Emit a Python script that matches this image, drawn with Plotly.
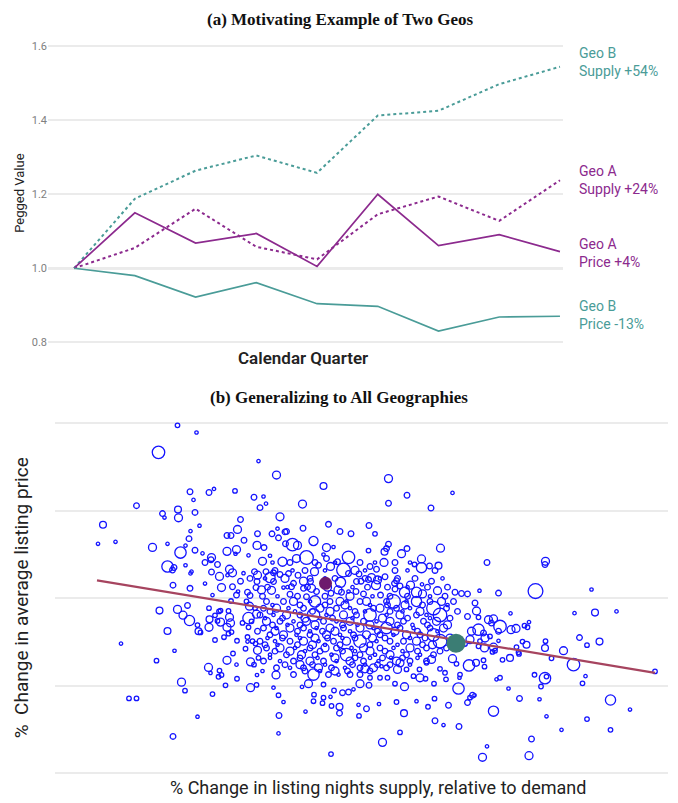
import plotly.graph_objects as go

# ---------------- Panel (a) data ----------------
quarters = [0, 1, 2, 3, 4, 5, 6, 7, 8]
geo_b_supply = [1.000, 1.188, 1.264, 1.305, 1.258, 1.413, 1.426, 1.498, 1.545]
geo_a_supply = [1.000, 1.055, 1.161, 1.058, 1.024, 1.146, 1.194, 1.128, 1.238]
geo_a_price = [1.000, 1.150, 1.068, 1.094, 1.005, 1.200, 1.061, 1.091, 1.045]
geo_b_price = [1.000, 0.980, 0.922, 0.961, 0.904, 0.897, 0.830, 0.868, 0.870]
y_ticks_a = [0.8, 1.0, 1.2, 1.4, 1.6]
end_labels = ["Geo B<br>Supply +54%", "Geo A<br>Supply +24%",
              "Geo A<br>Price +4%", "Geo B<br>Price -13%"]

# ---------------- Panel (b) data: (supply change, price change, geo size) ----------------
geos_far_left = [
    (-36.5, 43.5, 4), (-32.7, 41.7, 3), (-40.3, 36.7, 11), (-20.3, 34.5, 3), (-34.0, 26.8, 5),
    (-33.3, 24.75, 3), (-30.2, 26.6, 5), (-29.2, 27.5, 3), (-25.0, 27.0, 4), (-21.2, 25.4, 5),
    (-44.7, 23.3, 5), (-36.4, 22.3, 6), (-36.3, 20.25, 7), (-39.5, 21.3, 5), (-39.1, 20.3, 3),
    (-33.0, 21.6, 5), (-51.4, 18.5, 6), (-23.9, 19.8, 5), (-24.5, 17.3, 7), (-33.9, 16.9, 3),
    (-32.1, 18.25, 3), (-52.4, 13.7, 3), (-48.9, 14.2, 3), (-41.5, 12.8, 7), (-38.5, 13.7, 3),
    (-34.2, 15.0, 5), (-35.9, 11.5, 10), (-34.9, 13.25, 3), (-33.0, 12.1, 5), (-31.5, 11.3, 3),
    (-29.7, 10.25, 7), (-29.8, 9.7, 5), (-26.6, 11.8, 7), (-26.6, 15.8, 5), (-25.8, 15.8, 5),
    (-24.7, 12.25, 7), (-24.9, 11.2, 3), (-23.2, 14.6, 5), (-22.3, 10.8, 3), (-20.5, 16.25, 5),
    (-20.6, 13.3, 7), (-38.5, 8.0, 10), (-37.5, 7.1, 5), (-37.2, 7.75, 5), (-34.9, 8.3, 3),
    (-33.9, 6.25, 3), (-33.7, 6.7, 3), (-31.0, 9.0, 5), (-28.5, 8.5, 5), (-29.7, 6.6, 5),
    (-28.1, 5.5, 7), (-26.1, 7.3, 7), (-25.5, 6.4, 7), (-26.5, 5.8, 3), (-23.3, 6.3, 3),
    (-21.1, 6.7, 5), (-20.5, 5.8, 7), (-23.9, 4.3, 5), (-22.0, 5.0, 5), (-37.4, 3.3, 5),
    (-34.0, 2.5, 5), (-31.0, 3.7, 3), (-27.7, 2.7, 7), (-25.5, 2.9, 5), (-29.5, 0.8, 3),
    (-24.7, 0.8, 5), (-24.4, 1.7, 3), (-22.5, 1.5, 5), (-22.0, 0.7, 5), (-20.8, 2.7, 5),
    (-20.6, 4.2, 5),
]
geos_upper_mid = [
    (-16.7, 31.0, 7), (-7.3, 28.25, 6), (5.7, 30.1, 7), (9.4, 25.9, 5), (18.5, 26.5, 3),
    (5.7, 23.9, 5), (14.2, 22.7, 5), (-11.5, 23.7, 7), (-19.3, 25.6, 3), (-18.8, 23.8, 3),
    (-20.0, 22.8, 5), (-16.0, 20.5, 7), (-11.4, 17.6, 5), (-6.3, 18.6, 5), (-4.0, 16.8, 5),
    (-1.8, 16.25, 5), (1.8, 18.3, 5), (3.0, 16.2, 4), (-17.6, 16.2, 5), (-16.5, 17.5, 3),
    (-15.0, 16.7, 5), (-14.7, 16.8, 5), (-16.3, 15.2, 5), (-9.3, 14.4, 8), (-13.5, 13.5, 11),
    (-12.5, 13.3, 7), (-14.9, 13.7, 5), (-6.7, 12.75, 7), (-5.3, 12.9, 3), (-19.2, 12.75, 5),
    (5.7, 13.6, 5), (5.3, 12.5, 5), (4.9, 11.7, 6), (1.7, 12.0, 4), (9.4, 12.5, 5),
    (16.1, 12.6, 7), (8.3, 11.2, 7), (-10.7, 10.25, 12), (-12.7, 10.0, 7), (-15.5, 9.2, 8),
    (-19.5, 9.3, 7), (-18.0, 10.7, 3), (-7.3, 11.0, 3), (-6.7, 10.0, 5), (-2.3, 10.3, 11),
    (-3.3, 7.1, 12), (-5.9, 8.0, 7), (-8.3, 8.3, 5), (-9.1, 6.7, 7), (-4.5, 9.2, 5),
    (2.0, 8.0, 5), (3.3, 7.3, 5), (4.8, 9.0, 7), (10.9, 8.5, 4), (12.3, 9.9, 7),
    (12.3, 7.7, 9), (13.9, 8.1, 5), (15.7, 8.2, 6), (-0.2, 6.1, 5), (-2.3, 6.25, 5),
    (-18.8, 6.7, 5), (-17.3, 6.4, 5), (-18.0, 5.2, 9), (-16.0, 6.0, 5), (-14.3, 6.2, 5),
    (-12.4, 5.8, 5), (-11.3, 4.3, 7), (-13.3, 3.75, 5), (-13.7, 2.9, 5), (-9.9, 4.2, 5),
    (-17.3, 4.2, 5), (-19.7, 2.1, 7), (-17.7, 2.0, 7), (-15.3, 2.7, 3), (-11.3, 2.5, 5),
    (-9.7, 2.5, 7), (-8.7, 1.7, 5), (-3.9, 4.0, 9), (-4.4, 2.1, 7), (-3.7, 1.5, 5),
    (-0.7, 4.2, 5), (0.2, 4.3, 5), (-0.8, 1.7, 5), (-2.3, 1.7, 3), (1.7, 4.7, 5),
    (2.3, 5.2, 7), (3.5, 4.6, 7), (3.2, 3.3, 8), (5.0, 5.4, 5), (6.9, 3.75, 5),
    (7.3, 4.4, 5), (8.0, 3.1, 5), (10.1, 3.3, 7), (14.3, 4.3, 5), (12.4, 3.5, 3),
    (7.0, 2.3, 5), (8.9, 1.5, 9), (11.3, 1.5, 9), (12.5, 1.1, 7), (15.5, 1.9, 7),
    (19.0, 1.5, 5), (20.3, 1.2, 5), (4.1, 0.8, 5), (0.7, 1.1, 5), (-5.8, 1.25, 5),
    (-14.0, 1.0, 5), (-10.7, 0.4, 5),
]
geos_upper_mid_b = [
    (-19.5, 0.5, 5), (-16.5, 0.5, 3), (-12.5, 0.5, 5), (-7.0, 0.5, 5), (-2.0, 0.5, 7),
    (2.5, 0.5, 3), (6.0, 0.5, 5), (9.5, 0.5, 5), (14.0, 0.5, 3), (17.0, 0.5, 5),
    (-18.5, 2.8, 5), (-14.5, 2.8, 3), (-10.5, 2.8, 5), (-6.5, 2.8, 7), (-1.5, 2.8, 3),
    (1.5, 2.8, 5), (5.5, 2.8, 5), (9.5, 2.8, 3), (13.5, 2.8, 5), (17.5, 2.8, 5),
    (-19.0, 5.0, 3), (-15.0, 5.0, 7), (-10.0, 5.0, 5), (-7.0, 5.0, 3), (-5.0, 5.0, 5),
    (1.0, 5.0, 5), (4.0, 5.0, 3), (7.5, 5.0, 5), (11.0, 5.0, 5), (16.5, 5.0, 3),
    (-17.0, 7.0, 5), (-13.5, 7.0, 3), (-11.0, 7.0, 5), (-7.0, 7.0, 3), (-1.0, 7.0, 7),
    (1.0, 7.0, 3), (7.0, 7.0, 5), (9.5, 7.0, 3), (15.0, 7.0, 5),
    (-17.5, 9.0, 3), (-14.0, 9.0, 5), (-9.0, 9.0, 5), (-5.0, 9.0, 3), (0.0, 9.0, 5),
    (3.0, 9.0, 3), (7.0, 9.0, 5), (10.0, 9.0, 3),
]
geos_upper_right = [
    (25.4, 9.0, 5), (37.1, 9.3, 7), (37.0, 8.5, 5), (21.5, 1.1, 5), (23.9, 1.9, 3),
    (27.7, 1.3, 5), (35.1, 1.8, 13), (46.3, 2.2, 3),
]
geos_lower_left = [
    (-47.8, -11.4, 3), (-37.1, -13.2, 3), (-40.7, -15.7, 4), (-40.1, -3.1, 6), (-36.5, -2.8, 7),
    (-35.4, -4.25, 7), (-34.5, -1.8, 5), (-34.1, -5.6, 9), (-38.5, -8.25, 6), (-32.5, -6.75, 4),
    (-32.3, -8.3, 6), (-31.9, -8.6, 4), (-30.2, -7.3, 7), (-30.1, -5.3, 6), (-30.2, -2.5, 4),
    (-29.0, -4.3, 4), (-28.2, -3.3, 4), (-27.9, -3.1, 4), (-28.5, -5.7, 4), (-27.9, -6.0, 7),
    (-26.3, -3.2, 4), (-26.1, -4.8, 7), (-25.9, -6.2, 7), (-26.6, -7.3, 7), (-26.3, -8.9, 4),
    (-25.7, -8.5, 4), (-29.0, -10.5, 4), (-27.2, -9.8, 4), (-24.6, -10.7, 4), (-25.8, -0.7, 4),
    (-22.7, -0.8, 4), (-22.1, -2.0, 7), (-22.3, -5.0, 10), (-21.7, -5.8, 4), (-23.5, -6.2, 4),
    (-22.3, -7.3, 4), (-21.0, -2.5, 4), (-20.7, -4.0, 7), (-22.5, -9.75, 4), (-22.5, -10.9, 3),
    (-21.5, -10.8, 4), (-20.9, -11.4, 4), (-22.9, -12.7, 4), (-20.5, -13.1, 7), (-20.3, -15.0, 4),
    (-25.4, -13.9, 4), (-26.6, -15.6, 7), (-24.7, -16.7, 3), (-21.9, -16.0, 7), (-21.2, -16.7, 4),
    (-30.3, -17.4, 7), (-29.9, -18.8, 3), (-28.1, -18.2, 4), (-27.7, -19.3, 4), (-28.3, -19.75, 4),
    (-24.6, -20.25, 4), (-26.9, -21.9, 4), (-35.7, -21.1, 7), (-35.0, -23.25, 4), (-29.5, -24.1, 4),
    (-21.9, -22.5, 7), (-20.7, -21.8, 4), (-20.6, -19.3, 3), (-46.2, -25.2, 4), (-44.7, -25.2, 4),
    (-32.5, -29.8, 3), (-37.4, -34.75, 5),
]
geos_lower_mid = [
    (-19.5, -18.3, 3), (-16.8, -19.3, 7), (-17.3, -22.5, 3), (-16.3, -24.4, 4), (-15.3, -26.1, 3),
    (-16.2, -29.5, 5), (-16.3, -34.0, 3), (-10.9, -28.5, 3), (-9.3, -25.9, 4), (-9.2, -24.25, 4),
    (-7.3, -25.0, 4), (-7.5, -26.4, 4), (-5.7, -27.1, 4), (-5.9, -24.8, 3), (-4.1, -27.3, 6),
    (-4.1, -28.9, 5), (-5.8, -39.2, 4), (-11.6, -22.3, 3), (-10.3, -21.5, 7), (-7.3, -21.7, 4),
    (-5.2, -23.2, 4), (-3.5, -23.75, 5), (-2.3, -23.6, 5), (-1.3, -22.9, 3), (0.0, -21.5, 7),
    (1.8, -21.9, 5), (-0.3, -26.8, 3), (-0.2, -29.6, 4), (1.3, -27.8, 5), (3.8, -26.6, 3),
    (4.5, -36.25, 7), (7.3, -26.1, 4), (8.8, -28.9, 6), (8.9, -22.25, 7), (8.0, -33.75, 4),
    (11.3, -25.9, 3), (13.6, -27.3, 4), (14.9, -25.25, 4), (15.0, -30.8, 5), (16.7, -31.9, 3),
    (17.7, -26.9, 5), (19.8, -32.25, 5), (19.7, -22.7, 10), (14.8, -21.5, 4), (13.1, -20.25, 4),
    (17.2, -20.4, 4), (19.9, -20.0, 3), (10.7, -19.6, 4), (12.0, -20.0, 7), (7.0, -21.5, 4),
    (5.5, -20.0, 4), (4.0, -20.0, 4), (2.0, -20.0, 4), (1.0, -17.75, 7), (4.3, -17.1, 3),
    (6.2, -15.0, 3), (8.0, -16.25, 7), (7.5, -17.9, 7), (9.3, -17.9, 4), (11.9, -17.9, 4),
    (13.3, -16.25, 4), (14.3, -15.4, 7), (16.0, -17.75, 4), (17.0, -18.75, 4), (18.5, -15.2, 7),
    (19.3, -16.5, 4), (20.0, -19.2, 4),
]
geos_core = [
    (-18.7, -0.8, 5), (-15.3, -0.8, 5), (-13.3, -0.8, 7), (-10.0, -0.8, 3), (-9.0, -0.8, 10),
    (-6.0, -0.8, 5), (-4.0, -0.8, 7), (-2.7, -0.8, 3), (0.0, -0.8, 5), (1.3, -0.8, 7),
    (5.3, -0.8, 5), (6.7, -0.8, 12), (9.3, -0.8, 3), (11.3, -0.8, 9), (14.0, -0.8, 5),
    (16.3, -0.8, 7), (18.7, -0.8, 5),
    (-19.3, -2.5, 5), (-16.7, -2.5, 7), (-14.3, -2.5, 3), (-11.3, -2.5, 5), (-8.0, -2.5, 7),
    (-4.7, -2.5, 5), (-2.0, -2.5, 3), (2.7, -2.5, 5), (4.0, -2.5, 7), (7.3, -2.5, 5),
    (10.0, -2.5, 3), (14.7, -2.5, 12), (17.3, -2.5, 5),
    (-20.0, -4.2, 5), (-17.3, -4.2, 3), (-14.7, -4.2, 7), (-12.0, -4.2, 5), (-9.3, -4.2, 11),
    (-6.7, -4.2, 3), (-3.3, -4.2, 7), (-0.7, -4.2, 5), (2.0, -4.2, 11), (5.3, -4.2, 3),
    (8.0, -4.2, 7), (11.3, -4.2, 5), (13.3, -4.2, 3), (16.0, -4.2, 12),
    (-18.7, -5.8, 7), (-16.0, -5.8, 5), (-13.3, -5.8, 3), (-10.7, -5.8, 7), (-7.3, -5.8, 5),
    (-4.7, -5.8, 3), (-2.0, -5.8, 7), (0.7, -5.8, 5), (3.3, -5.8, 3), (6.0, -5.8, 7),
    (8.7, -5.8, 5), (12.7, -5.8, 5), (15.3, -5.8, 7),
    (-19.3, -7.5, 5), (-16.7, -7.5, 3), (-14.0, -7.5, 7), (-11.3, -7.5, 5), (-8.7, -7.5, 3),
    (-6.0, -7.5, 7), (-3.3, -7.5, 5), (0.0, -7.5, 7), (2.7, -7.5, 3), (5.3, -7.5, 10),
    (8.0, -7.5, 5), (10.7, -7.5, 3), (14.0, -7.5, 5), (16.7, -7.5, 7),
    (-18.0, -9.2, 5), (-15.3, -9.2, 7), (-12.7, -9.2, 3), (-10.0, -9.2, 5), (-6.7, -9.2, 7),
    (-4.0, -9.2, 3), (-1.3, -9.2, 5), (1.3, -9.2, 7), (4.0, -9.2, 5), (6.7, -9.2, 3),
    (9.3, -9.2, 7), (12.0, -9.2, 5), (14.7, -9.2, 11),
    (-20.0, -10.8, 5), (-17.0, -10.8, 3), (-14.0, -10.8, 5), (-11.3, -10.8, 7), (-8.3, -10.8, 3),
    (-5.3, -10.8, 5), (-2.7, -10.8, 7), (0.0, -10.8, 11), (3.3, -10.8, 3), (6.0, -10.8, 5),
    (8.7, -10.8, 5), (11.3, -10.8, 7), (16.0, -10.8, 12),
    (-18.7, -12.5, 5), (-16.0, -12.5, 7), (-13.0, -12.5, 3), (-10.0, -12.5, 5), (-7.0, -12.5, 7),
    (-4.7, -12.5, 5), (-1.7, -12.5, 3), (0.7, -12.5, 7), (4.0, -12.5, 5), (6.7, -12.5, 3),
    (10.0, -12.5, 7), (13.3, -12.5, 5), (17.3, -12.5, 5),
    (-18.0, -14.2, 3), (-14.7, -14.2, 5), (-11.7, -14.2, 7), (-9.0, -14.2, 5), (-5.7, -14.2, 3),
    (-2.7, -14.2, 11), (0.0, -14.2, 5), (3.0, -14.2, 3), (6.0, -14.2, 7), (9.3, -14.2, 5),
    (12.0, -14.2, 3), (14.7, -14.2, 5),
    (-19.3, -15.8, 5), (-16.0, -15.8, 3), (-13.3, -15.8, 5), (-10.0, -15.8, 7), (-7.3, -15.8, 5),
    (-4.7, -15.8, 3), (-2.0, -15.8, 7), (0.7, -15.8, 5), (3.7, -15.8, 3), (7.3, -15.8, 7),
    (10.0, -15.8, 5), (13.3, -15.8, 5),
    (-16.7, -17.5, 5), (-14.0, -17.5, 3), (-11.3, -17.5, 5), (-8.3, -17.5, 7), (-5.7, -17.5, 5),
    (-3.0, -17.5, 3), (0.0, -17.5, 5), (2.7, -17.5, 7), (5.3, -17.5, 5),
    (-13.3, -19.2, 5), (-9.3, -19.2, 10), (-6.3, -19.2, 5), (-4.3, -19.2, 3), (-2.0, -19.2, 5),
    (0.0, -19.2, 5),
]
geos_core_b = [
    (-17.5, -1.7, 3), (-12.0, -1.7, 5), (-7.0, -1.7, 5), (-3.0, -1.7, 7), (2.0, -1.7, 3),
    (5.5, -1.7, 5), (9.0, -1.7, 7), (12.5, -1.7, 5), (17.5, -1.7, 3),
    (-18.0, -3.3, 5), (-13.0, -3.3, 3), (-9.5, -3.3, 5), (-6.0, -3.3, 7), (-1.0, -3.3, 5),
    (1.0, -3.3, 3), (6.0, -3.3, 5), (8.5, -3.3, 3), (12.0, -3.3, 7), (19.5, -3.3, 5),
    (-19.0, -5.0, 3), (-15.5, -5.0, 5), (-11.0, -5.0, 7), (-8.0, -5.0, 3), (-5.5, -5.0, 5),
    (-1.5, -5.0, 3), (4.5, -5.0, 7), (9.5, -5.0, 5), (14.0, -5.0, 3), (18.0, -5.0, 5),
    (-17.5, -6.7, 5), (-14.5, -6.7, 3), (-12.0, -6.7, 5), (-9.0, -6.7, 7), (-3.5, -6.7, 5),
    (-0.5, -6.7, 3), (2.0, -6.7, 7), (7.5, -6.7, 5), (10.5, -6.7, 3), (13.5, -6.7, 5),
    (17.5, -6.7, 7),
    (-20.5, -8.3, 5), (-17.0, -8.3, 7), (-12.5, -8.3, 5), (-10.0, -8.3, 3), (-7.5, -8.3, 5),
    (-5.0, -8.3, 7), (-2.0, -8.3, 3), (3.5, -8.3, 5), (7.0, -8.3, 7), (11.5, -8.3, 5),
    (15.5, -8.3, 3),
    (-18.5, -10.0, 3), (-15.5, -10.0, 5), (-12.0, -10.0, 3), (-9.0, -10.0, 7), (-6.5, -10.0, 5),
    (-3.5, -10.0, 3), (-1.0, -10.0, 5), (2.5, -10.0, 7), (5.0, -10.0, 5), (10.0, -10.0, 3),
    (13.0, -10.0, 5), (18.0, -10.0, 7),
    (-19.0, -11.7, 5), (-16.5, -11.7, 3), (-12.5, -11.7, 5), (-9.5, -11.7, 7), (-7.0, -11.7, 3),
    (-4.0, -11.7, 5), (2.0, -11.7, 5), (7.5, -11.7, 3), (12.5, -11.7, 5), (14.5, -11.7, 7),
    (-17.0, -13.3, 5), (-14.0, -13.3, 7), (-11.0, -13.3, 3), (-8.0, -13.3, 5), (-3.5, -13.3, 5),
    (-1.0, -13.3, 3), (2.0, -13.3, 7), (5.0, -13.3, 5), (8.5, -13.3, 3), (11.5, -13.3, 5),
    (16.0, -13.3, 5),
    (-18.0, -15.0, 3), (-12.0, -15.0, 5), (-8.5, -15.0, 3), (-5.0, -15.0, 7), (-1.0, -15.0, 5),
    (2.0, -15.0, 3), (4.5, -15.0, 5), (8.5, -15.0, 5), (11.5, -15.0, 3),
    (-15.0, -16.7, 5), (-12.0, -16.7, 7), (-9.5, -16.7, 5), (-7.0, -16.7, 3), (-1.5, -16.7, 5),
    (1.0, -16.7, 3), (3.5, -16.7, 5), (6.0, -16.7, 5), (10.0, -16.7, 3),
    (-11.0, -18.3, 5), (-8.0, -18.3, 3), (-5.0, -18.3, 7), (-2.5, -18.3, 5), (2.0, -18.3, 5),
]
geos_lower_right = [
    (23.0, -1.2, 5), (23.3, -3.2, 7), (23.7, -4.8, 4), (21.5, -4.6, 5), (25.7, -5.4, 7),
    (26.7, -5.2, 7), (28.0, -7.1, 11), (27.7, -8.3, 5), (26.3, -6.25, 5), (23.7, -7.9, 10),
    (22.3, -8.3, 7), (24.7, -8.75, 5), (25.0, -10.0, 7), (22.0, -10.4, 7), (24.0, -10.8, 4),
    (21.0, -11.5, 4), (26.0, -9.6, 4), (30.1, -3.8, 3), (30.2, -7.9, 7), (31.2, -7.6, 7),
    (32.9, -6.9, 4), (33.5, -7.3, 4), (33.8, -6.0, 3), (32.5, -10.9, 4), (33.3, -11.7, 6),
    (27.7, -10.7, 3), (31.3, -12.3, 4), (31.7, -13.6, 4), (31.8, -14.0, 4), (24.9, -12.5, 7),
    (26.7, -12.3, 7), (27.0, -13.2, 4), (26.5, -13.5, 4), (23.7, -12.1, 4), (28.5, -15.5, 4),
    (30.0, -15.0, 6), (24.7, -15.6, 4), (23.2, -16.25, 6), (21.8, -16.9, 10), (24.9, -17.2, 4),
    (37.1, -10.8, 4), (37.0, -12.5, 6), (40.7, -13.2, 7), (38.3, -15.1, 4), (42.7, -16.7, 11),
    (42.9, -3.75, 3), (47.0, -3.6, 6), (51.3, -3.3, 3), (43.9, -9.9, 5), (45.4, -11.8, 4),
    (47.9, -10.9, 6), (59.0, -18.4, 4), (45.1, -19.6, 3), (44.5, -21.4, 4), (37.0, -20.1, 10),
    (37.3, -19.7, 4), (34.9, -19.25, 4), (36.2, -22.2, 4), (28.0, -20.0, 4), (27.3, -20.4, 3),
    (29.7, -22.7, 3), (22.5, -24.4, 5), (22.0, -25.0, 4), (22.9, -24.4, 3), (21.5, -26.25, 5),
    (26.7, -28.4, 9), (31.9, -25.2, 5), (35.9, -25.4, 3), (37.3, -29.7, 3), (45.4, -30.4, 4),
    (50.1, -25.6, 9), (54.0, -28.0, 3), (40.3, -33.1, 3), (50.1, -33.1, 4), (34.3, -35.4, 5),
    (25.4, -37.25, 3), (24.5, -40.0, 7), (33.8, -39.6, 7),
]
highlight_x = [-6.9, 19.2]          # Geo A, Geo B
highlight_y = [3.75, -11.3]
highlight_size = [13, 19]
trend_x = [-52.6, 59.0]
trend_y = [4.5, -18.75]
y_grid_b = [-44, -22, 0, 22, 44]

# ---------------- styling ----------------
TEAL = "#4a9c98"
PURPLE = "#8c2a8e"
W, H = 678, 803
FONT = "Roboto, 'Open Sans', sans-serif"


def px_x(p):
    return p / W


def px_y(p):
    return 1 - p / H


fig = go.Figure()

# Panel (a) lines
series = [
    (geo_b_supply, TEAL, "dot", 2.0),
    (geo_a_supply, PURPLE, "dot", 2.0),
    (geo_a_price, PURPLE, "solid", 1.7),
    (geo_b_price, TEAL, "solid", 1.7),
]
for vals, col, dash, wid in series:
    fig.add_trace(go.Scatter(x=quarters, y=vals, mode="lines",
                             line=dict(color=col, dash=dash, width=wid),
                             xaxis="x", yaxis="y", showlegend=False, hoverinfo="skip"))

# Panel (b) scatter
all_geos = (geos_far_left + geos_upper_mid + geos_upper_mid_b + geos_upper_right
            + geos_lower_left + geos_lower_mid + geos_core + geos_core_b + geos_lower_right)
gx = [g[0] for g in all_geos]
gy = [g[1] for g in all_geos]
gs = [g[2] for g in all_geos]
fig.add_trace(go.Scatter(x=gx, y=gy, mode="markers",
                         marker=dict(symbol="circle-open", size=gs, sizemode="diameter",
                                     sizeref=0.88, color="#1414ff",
                                     opacity=1, line=dict(width=1.3)),
                         xaxis="x2", yaxis="y2", showlegend=False, hoverinfo="skip"))
fig.add_trace(go.Scatter(x=trend_x, y=trend_y, mode="lines",
                         line=dict(color="#a6445f", width=2.2),
                         xaxis="x2", yaxis="y2", showlegend=False, hoverinfo="skip"))
fig.add_trace(go.Scatter(x=highlight_x, y=highlight_y, mode="markers",
                         marker=dict(size=highlight_size, color=["#6d1a6d", "#3b7d74"],
                                     opacity=1, line=dict(width=0)),
                         xaxis="x2", yaxis="y2", showlegend=False, hoverinfo="skip"))

# reference line at 1.0 in panel (a)
fig.add_shape(type="line", xref="x domain", x0=0, x1=1, yref="y", y0=1.0, y1=1.0,
              line=dict(color="#d9d9d9", width=2.5), layer="below")

ann = []
# titles
ann.append(dict(text="<b>(a) Motivating Example of Two Geos</b>", x=px_x(340), y=px_y(18),
                xref="paper", yref="paper", showarrow=False, xanchor="center", yanchor="middle",
                font=dict(family="'Liberation Serif', serif", size=17, color="#111")))
ann.append(dict(text="<b>(b) Generalizing to All Geographies</b>", x=px_x(339), y=px_y(398),
                xref="paper", yref="paper", showarrow=False, xanchor="center", yanchor="middle",
                font=dict(family="'Liberation Serif', serif", size=17, color="#111")))
# axis titles
ann.append(dict(text="Pegged Value", x=px_x(20), y=px_y(193), xref="paper", yref="paper",
                textangle=-90, showarrow=False, xanchor="center", yanchor="middle",
                font=dict(family=FONT, size=13, color="#222")))
ann.append(dict(text="Calendar Quarter", x=px_x(303), y=px_y(358), xref="paper", yref="paper",
                showarrow=False, xanchor="center", yanchor="middle",
                font=dict(family=FONT, size=17, color="#222", weight=600)))
ann.append(dict(text="%\u00a0 Change in average listing price", x=px_x(21), y=px_y(600),
                xref="paper", yref="paper", textangle=-90, showarrow=False,
                xanchor="center", yanchor="middle",
                font=dict(family=FONT, size=19, color="#222")))
ann.append(dict(text="% Change in listing nights supply, relative to demand", x=px_x(378),
                y=px_y(790), xref="paper", yref="paper", showarrow=False,
                xanchor="center", yanchor="middle",
                font=dict(family=FONT, size=18, color="#222")))
# end labels
label_specs = [(geo_b_supply, TEAL, 5), (geo_a_supply, PURPLE, 0),
               (geo_a_price, PURPLE, -1), (geo_b_price, TEAL, 1)]
for txt, (vals, col, ys) in zip(end_labels, label_specs):
    ann.append(dict(text=txt, x=quarters[-1], y=vals[-1], xref="x", yref="y",
                    xanchor="left", yanchor="middle", align="left", xshift=17, yshift=ys,
                    showarrow=False, font=dict(family=FONT, size=14, color=col)))

fig.update_layout(
    width=W, height=H, margin=dict(l=0, r=0, t=0, b=0),
    paper_bgcolor="white", plot_bgcolor="white",
    annotations=ann,
    xaxis=dict(domain=[px_x(48), px_x(563)], range=[-0.43, 8.05], showgrid=False,
               zeroline=False, showticklabels=False, showline=False, ticks=""),
    yaxis=dict(domain=[px_y(346), px_y(41)], range=[0.79, 1.61], tickvals=y_ticks_a,
               ticktext=[f"{v:.1f}" for v in y_ticks_a], showgrid=True,
               gridcolor="#ebebeb", gridwidth=1.5, zeroline=False, showline=False,
               ticks="", tickfont=dict(family=FONT, size=11, color="#808080")),
    xaxis2=dict(domain=[px_x(55), px_x(668)], range=[-61, 61.6], showgrid=False,
                zeroline=False, showticklabels=False, showline=False, ticks="",
                anchor="y2"),
    yaxis2=dict(domain=[px_y(780), px_y(420)], range=[-45, 45], tickvals=y_grid_b,
                showticklabels=False, showgrid=True, gridcolor="#ebebeb", gridwidth=1.5,
                zeroline=False, showline=False, ticks="", anchor="x2"),
)

fig.write_html("out.html", config={"displayModeBar": False},
               post_script="document.body.style.margin='0';document.body.style.overflow='hidden';")
